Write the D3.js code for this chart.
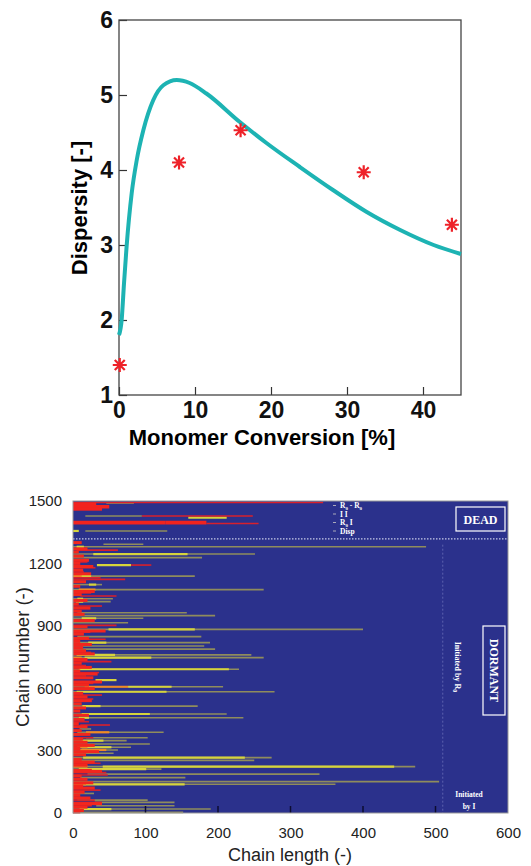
<!DOCTYPE html>
<html>
<head>
<meta charset="utf-8">
<script src="https://cdn.jsdelivr.net/npm/d3@7"></script>
<style>
  body { margin: 0; background: #fff; }
  svg { display: block; }
  .top text { font-family: "Liberation Sans", Arial, sans-serif; font-weight: bold; }
  .bot text { font-family: "Liberation Sans", Arial, sans-serif; }
  .bot text.note { font-family: "Liberation Serif", "DejaVu Serif", serif; font-weight: bold; fill: #fff; }
</style>
</head>
<body>
<svg width="531" height="866"></svg>
<script>
// ---- top panel: dispersity vs conversion
var curveConv = [0, 0.35, 0.66, 1.0, 1.67, 2.33, 3.2, 4.5, 5.83, 7.6, 9.3, 11.5, 15.9, 19.4, 23.8, 28.2, 32.6, 37.0, 41.4, 45];
var curveDisp = [1.8, 2.0, 2.49, 2.98, 3.69, 4.13, 4.53, 4.93, 5.13, 5.2, 5.16, 5.02, 4.64, 4.36, 4.04, 3.73, 3.44, 3.2, 3.0, 2.88];
var exptConv = [0.1, 7.9, 16, 32.2, 43.8];
var exptDisp = [1.4, 4.1, 4.53, 3.97, 3.27];
var topXTicks = [0, 10, 20, 30, 40];
var topYTicks = [1, 2, 3, 4, 5, 6];

// ---- bottom panel: chain map  [chain number, from, to]
var oliveSegs = [
  [1490, 46, 84], [1428, 17, 95], [1356, 17, 130],
  [1292, 42, 97], [1280, 0, 487], [1245, 0, 251], [1228, 0, 178], [1139, 0, 168],
  [1098, 0, 40], [1074, 0, 263], [1030, 0, 55], [1016, 0, 52], [963, 6, 157],
  [949, 0, 196], [936, 0, 97], [915, 0, 76], [883, 0, 400], [848, 6, 177],
  [819, 0, 189], [803, 0, 181], [788, 0, 196], [760, 0, 246], [747, 0, 263],
  [691, 0, 229], [607, 0, 207], [583, 0, 278], [514, 0, 172], [476, 0, 212],
  [458, 0, 235], [404, 9, 25], [388, 6, 125], [362, 18, 103], [348, 0, 74],
  [332, 0, 106], [316, 0, 80], [303, 0, 62], [287, 0, 56], [266, 0, 274],
  [253, 0, 250], [223, 0, 472], [211, 0, 122], [187, 20, 340], [170, 10, 155],
  [151, 0, 505], [138, 0, 362], [94, 0, 29], [62, 6, 103], [51, 30, 140],
  [35, 32, 140], [19, 0, 190], [3, 0, 152]
];
var yellowSegs = [
  [1420, 159, 212], [1356, 0, 8], [1280, 5, 15], [1245, 28, 158], [1192, 33, 80],
  [1139, 3, 25], [1098, 22, 32], [1030, 6, 14], [1016, 4, 14], [936, 12, 32],
  [883, 49, 168], [819, 21, 46], [760, 5, 58], [747, 16, 108], [691, 8, 215],
  [639, 31, 60], [607, 76, 136], [583, 5, 129], [514, 13, 38], [476, 12, 106],
  [458, 8, 22], [348, 12, 42], [316, 12, 53], [266, 14, 237], [223, 41, 443],
  [211, 8, 101], [138, 8, 154], [19, 9, 53]
];
var orangeSegs = [
  [1074, 8, 31], [607, 16, 76], [388, 18, 50], [303, 10, 46], [316, 6, 20],
  [1139, 0, 12], [747, 0, 12], [223, 0, 20], [138, 0, 18]
];
var redSegs = [
  [1493, 0, 345], [1428, 95, 248], [1392, 184, 256], [1264, 5, 62], [1207, 0, 20],
  [1192, 80, 108], [1179, 0, 31], [1159, 0, 15], [1131, 0, 38], [1123, 0, 72],
  [1058, 0, 25], [1043, 10, 60], [995, 0, 40], [902, 0, 60], [869, 0, 24],
  [835, 0, 45], [772, 0, 25], [728, 0, 53], [709, 0, 18], [675, 0, 36],
  [659, 0, 18], [623, 0, 28], [567, 0, 40], [548, 0, 28], [439, 0, 22],
  [423, 10, 51], [362, 0, 28], [239, 0, 38], [194, 0, 46], [183, 0, 48],
  [110, 0, 38], [62, 0, 30], [51, 0, 40], [35, 0, 26]
];
var redBlocks = [
  [1484, 0, 32], [1472, 0, 50], [1462, 0, 40], [1396, 0, 128], [1396, 128, 184]
];
var redStubs = [
  [1300, 12], [1270, 20], [1255, 8], [1235, 15], [1215, 22], [1200, 10], [1185, 28],
  [1168, 14], [1150, 25], [1112, 18], [1090, 10], [1065, 30], [1050, 12], [1022, 20],
  [1005, 8], [985, 24], [970, 12], [955, 16], [925, 30], [895, 20], [875, 45],
  [860, 15], [840, 22], [825, 10], [810, 26], [795, 14], [780, 18], [765, 30],
  [738, 20], [720, 12], [700, 26], [683, 10], [668, 34], [650, 28], [630, 40],
  [615, 22], [598, 30], [575, 14], [558, 20], [540, 26], [525, 12], [505, 18],
  [490, 10], [470, 22], [450, 16], [430, 8], [415, 20], [396, 12], [378, 24],
  [355, 14], [340, 20], [325, 30], [310, 10], [295, 36], [280, 18], [258, 12],
  [245, 30], [230, 20], [205, 26], [200, 40], [178, 12], [162, 20], [145, 28],
  [130, 14], [120, 30], [100, 16], [85, 10], [72, 24], [45, 40], [28, 20],
  [12, 15], [5, 10]
];
var botXTicks = [0, 100, 200, 300, 400, 500, 600];
var botYTicks = [0, 300, 600, 900, 1200, 1500];
var deadLimit = 1318;
var initLimit = 510;

var svg = d3.select("svg");
svg.append("rect").attr("width", 531).attr("height", 866).attr("fill", "#fff");
var fmt = d3.format("d");

// ================= top chart
var tx = d3.scaleLinear().domain([0, 45]).range([119, 461]);
var ty = d3.scaleLinear().domain([1, 6]).range([395, 20]);
var topG = svg.append("g").attr("class", "top");

topG.append("g")
   .attr("transform", "translate(0,395)")
   .call(d3.axisBottom(tx).tickValues(topXTicks).tickFormat(fmt).tickSize(-8).tickPadding(7))
   .call(function(g){ g.select(".domain").remove(); })
   .call(function(g){
      g.selectAll("line").attr("stroke", "#333").attr("stroke-width", 1.2);
      g.selectAll("text").attr("font-size", 23).attr("fill", "#111");
   });
topG.append("g")
   .attr("transform", "translate(119,0)")
   .call(d3.axisLeft(ty).tickValues(topYTicks).tickFormat(fmt).tickSize(-8).tickPadding(6))
   .call(function(g){ g.select(".domain").remove(); })
   .call(function(g){
      g.selectAll("line").attr("stroke", "#333").attr("stroke-width", 1.2);
      g.selectAll("text").attr("font-size", 23).attr("fill", "#111");
   });

topG.append("rect")
   .attr("x", 119).attr("y", 20).attr("width", 342).attr("height", 375)
   .attr("fill", "none").attr("stroke", "#444").attr("stroke-width", 1.3);

var line = d3.line()
   .x(function(d, i){ return tx(curveConv[i]); })
   .y(function(d){ return ty(d); })
   .curve(d3.curveMonotoneX);
topG.append("path")
   .attr("d", line(curveDisp))
   .attr("fill", "none")
   .attr("stroke", "#1db3b3")
   .attr("stroke-width", 4);

// 8 arm asterisk
var star = "M-7,0L7,0M0,-7L0,7M-5,-5L5,5M-5,5L5,-5";
topG.selectAll(".star")
   .data(exptDisp)
   .enter()
   .append("path")
   .attr("class", "star")
   .attr("transform", function(d, i){ return "translate(" + tx(exptConv[i]) + "," + ty(d) + ")"; })
   .attr("d", star)
   .attr("stroke", "#ee2229")
   .attr("stroke-width", 2.2);

topG.append("text")
   .attr("transform", "translate(87,208) rotate(-90)")
   .attr("text-anchor", "middle")
   .attr("font-size", 22)
   .text("Dispersity [-]");
topG.append("text")
   .attr("x", 262).attr("y", 445)
   .attr("text-anchor", "middle")
   .attr("font-size", 22)
   .text("Monomer Conversion [%]");

// ================= bottom chart
var bx = d3.scaleLinear().domain([0, 600]).range([73, 508]);
var by = d3.scaleLinear().domain([0, 1500]).range([813, 501]);
var bot = svg.append("g").attr("class", "bot");

bot.append("rect")
   .attr("x", 73).attr("y", 501).attr("width", 435).attr("height", 312)
   .attr("fill", "#2b318c");

function segs(data, color, w, cls) {
  bot.selectAll("." + cls)
     .data(data)
     .enter()
     .append("line")
     .attr("class", cls)
     .attr("x1", function(d){ return bx(d[1]); })
     .attr("x2", function(d){ return bx(d[2]); })
     .attr("y1", function(d){ return by(d[0]); })
     .attr("y2", function(d){ return by(d[0]); })
     .attr("stroke", color)
     .attr("stroke-width", w);
}
segs(oliveSegs, "#8f8c5c", 1.6, "olive");
segs(yellowSegs, "#d6d43c", 2.2, "yel");
segs(orangeSegs, "#f08a24", 2.2, "org");
segs(redSegs, "#d8202c", 1.6, "red");
segs(redBlocks, "#f2231f", 3.6, "blk");

bot.selectAll(".stub")
   .data(redStubs)
   .enter()
   .append("line")
   .attr("class", "stub")
   .attr("x1", bx(0))
   .attr("x2", function(d){ return bx(d[1]); })
   .attr("y1", function(d){ return by(d[0]); })
   .attr("y2", function(d){ return by(d[0]); })
   .attr("stroke", "#f2261e")
   .attr("stroke-width", 3);

// dead / dormant separators
bot.append("line")
   .attr("x1", bx(0)).attr("x2", bx(600))
   .attr("y1", by(deadLimit)).attr("y2", by(deadLimit))
   .attr("stroke", "#c8cce8").attr("stroke-width", 1.2)
   .attr("stroke-dasharray", "1.5,1.5");
bot.append("line")
   .attr("x1", bx(initLimit)).attr("x2", bx(initLimit))
   .attr("y1", by(1290)).attr("y2", by(0))
   .attr("stroke", "#6a70b8").attr("stroke-width", 0.8)
   .attr("stroke-dasharray", "2,2");

bot.append("g")
   .attr("transform", "translate(0,813)")
   .call(d3.axisBottom(bx).tickValues(botXTicks).tickFormat(fmt).tickSize(0).tickPadding(14))
   .call(function(g){ g.select(".domain").remove(); })
   .call(function(g){ g.selectAll("text").attr("font-size", 15).attr("fill", "#222"); });
bot.append("g")
   .attr("transform", "translate(73,0)")
   .call(d3.axisLeft(by).tickValues(botYTicks).tickFormat(fmt).tickSize(0).tickPadding(11))
   .call(function(g){ g.select(".domain").remove(); })
   .call(function(g){ g.selectAll("text").attr("font-size", 15).attr("fill", "#222"); });

// dark inner ticks
bot.selectAll(".itick")
   .data(botXTicks.slice(1, 6))
   .enter()
   .append("line")
   .attr("class", "itick")
   .attr("x1", function(d){ return bx(d); })
   .attr("x2", function(d){ return bx(d); })
   .attr("y1", 813).attr("y2", 806)
   .attr("stroke", "#0c0c30").attr("stroke-width", 1.5);

bot.append("rect")
   .attr("x", 73).attr("y", 501).attr("width", 435).attr("height", 312)
   .attr("fill", "none").attr("stroke", "#9a9a9a").attr("stroke-width", 1);

bot.append("text")
   .attr("x", 290).attr("y", 861)
   .attr("text-anchor", "middle")
   .attr("font-size", 18).attr("fill", "#222")
   .text("Chain length (-)");
bot.append("text")
   .attr("transform", "translate(29,657) rotate(-90)")
   .attr("text-anchor", "middle")
   .attr("font-size", 18.5).attr("fill", "#222")
   .text("Chain number (-)");

// annotations
bot.append("rect")
   .attr("x", 456).attr("y", 507).attr("width", 49).attr("height", 24)
   .attr("fill", "none").attr("stroke", "#fff").attr("stroke-width", 1.2);
bot.append("text").attr("class", "note")
   .attr("x", 480.5).attr("y", 523.5).attr("text-anchor", "middle")
   .attr("font-size", 12).text("DEAD");

bot.append("rect")
   .attr("x", 483).attr("y", 626).attr("width", 22).attr("height", 89)
   .attr("fill", "none").attr("stroke", "#fff").attr("stroke-width", 1.2);
bot.append("text").attr("class", "note")
   .attr("transform", "translate(490,670.5) rotate(90)")
   .attr("text-anchor", "middle")
   .attr("font-size", 12).text("DORMANT");

var rot = bot.append("text").attr("class", "note")
   .attr("transform", "translate(455,667) rotate(90)")
   .attr("text-anchor", "middle")
   .attr("font-size", 8);
rot.append("tspan").text("Initiated by R");
rot.append("tspan").attr("font-size", 6).attr("dy", 2).text("0");

bot.append("text").attr("class", "note")
   .attr("x", 469).attr("y", 797).attr("text-anchor", "middle")
   .attr("font-size", 7.5).text("Initiated");
bot.append("text").attr("class", "note")
   .attr("x", 469).attr("y", 809).attr("text-anchor", "middle")
   .attr("font-size", 7.5).text("by I");

var legend = [["R", "0", " - R", "0"], ["I  I"], ["R", "0", "  I"], ["Disp"]];
legend.forEach(function(parts, i) {
  var t = bot.append("text").attr("class", "note")
     .attr("x", 340).attr("y", 508 + i * 8.5)
     .attr("font-size", 7.5);
  parts.forEach(function(p, j) {
    var s = t.append("tspan").text(p);
    if (j % 2 === 1) s.attr("font-size", 5).attr("dy", 1.5);
    else if (j > 0) s.attr("dy", -1.5);
  });
  bot.append("line")
     .attr("x1", 333).attr("x2", 336)
     .attr("y1", 505.5 + i * 8.5).attr("y2", 505.5 + i * 8.5)
     .attr("stroke", "#aab").attr("stroke-width", 1);
});
</script>
</body>
</html>
